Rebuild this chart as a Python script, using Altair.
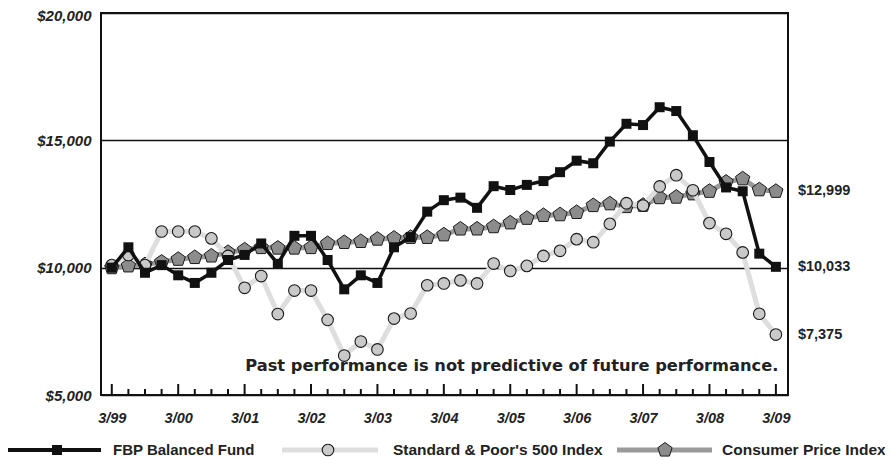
import altair as alt
import pandas as pd

# ---------------- data ----------------
quarters = list(range(41))  # 3/99 ... 3/09, quarterly
tick_labels = ["3/99", "3/00", "3/01", "3/02", "3/03", "3/04",
               "3/05", "3/06", "3/07", "3/08", "3/09"]
series_names = ["FBP Balanced Fund", "Standard & Poor's 500 Index", "Consumer Price Index"]

fbp = [10000, 10800, 9800, 10100, 9700, 9400, 9800, 10300, 10500, 10950,
       10150, 11250, 11250, 10300, 9150, 9700, 9400, 10800, 11200, 12200,
       12650, 12750, 12350, 13200, 13050, 13250, 13400, 13750, 14200, 14100,
       14950, 15650, 15600, 16300, 16150, 15200, 14150, 13150, 13000, 10550,
       10033]
sp500 = [10100, 10500, 10100, 11420, 11420, 11420, 11150, 10460, 9210, 9670,
         8180, 9100, 9100, 7950, 6550, 7100, 6790, 8000, 8200, 9310,
         9380, 9500, 9380, 10160, 9870, 10070, 10460, 10660, 11120, 11000,
         11720, 12530, 12440, 13190, 13630, 13040, 11750, 11330, 10600, 8190,
         7375]
cpi = [10000, 10070, 10120, 10220, 10330, 10400, 10460, 10600, 10700, 10790,
       10770, 10770, 10790, 10950, 10990, 11030, 11120, 11160, 11190, 11190,
       11290, 11520, 11520, 11610, 11760, 11940, 12050, 12080, 12170, 12440,
       12510, 12400, 12450, 12750, 12770, 12900, 13000, 13360, 13490, 13060,
       12999]
end_labels = ["$12,999", "$10,033", "$7,375"]
y_ticks = [5000, 10000, 15000, 20000]
note = "Past performance is not predictive of future performance."

# ---------------- layout ----------------
W, H = 687, 382
BOLD = "Liberation Sans"
TXT = "#222222"

df = pd.DataFrame({"q": quarters, "fbp": fbp, "sp": sp500, "cpi": cpi})
ends = pd.DataFrame({"q": [quarters[-1]] * 3,
                     "v": [cpi[-1], fbp[-1], sp500[-1]],
                     "label": end_labels})
ticks = pd.DataFrame({"q": quarters, "major": [q % 4 == 0 for q in quarters]})

xs = alt.Scale(domain=[-0.65, 40.73], nice=False, zero=False)
ys = alt.Scale(domain=[5000, 20000], nice=False, zero=False)

label_expr = "[" + ",".join("'%s'" % t for t in tick_labels) + "][round(datum.value/4)]"

x_axis = alt.Axis(values=list(range(0, 41, 4)), labelExpr=label_expr, ticks=False,
                  domain=False, grid=False, title=None, labelFont=BOLD,
                  labelFontWeight="bold", labelFontStyle="italic", labelFontSize=14.5,
                  labelColor=TXT, labelPadding=16)
y_axis = alt.Axis(values=y_ticks, format="$,.0f", ticks=False, domain=False,
                  grid=True, gridColor="#111111", gridWidth=1.5, gridOpacity=1,
                  title=None, labelFont=BOLD, labelFontWeight="bold",
                  labelFontStyle="italic", labelFontSize=15, labelColor=TXT,
                  labelPadding=10,
                  labelOffset=alt.ExprRef("datum.value == 20000 ? 2.5 : 0"))


def X(field="q:Q"):
    return alt.X(field, scale=xs, axis=x_axis)


def Y(field):
    return alt.Y(field, scale=ys, axis=y_axis)


PENT = "M0,-1L0.951,-0.309L0.588,0.809L-0.588,0.809L-0.951,-0.309Z"

base = alt.Chart(df)

cpi_line = base.mark_line(color="#9a9a9a", strokeWidth=5).encode(x=X(), y=Y("cpi:Q"))
cpi_pts = base.mark_point(shape=PENT, size=225, filled=True, fill="#8c8c8c",
                          stroke="#1a1a1a", strokeWidth=1, opacity=1).encode(
    x=X(), y=Y("cpi:Q"))

sp_line = base.mark_line(color="#dedede", strokeWidth=5).encode(x=X(), y=Y("sp:Q"))
sp_pts = base.mark_point(shape="circle", size=135, filled=True, fill="#c9c9c9",
                         stroke="#1a1a1a", strokeWidth=1.1, opacity=1).encode(
    x=X(), y=Y("sp:Q"))

fbp_line = base.mark_line(color="#111111", strokeWidth=3.5).encode(x=X(), y=Y("fbp:Q"))
fbp_pts = base.mark_square(size=100, color="#111111", opacity=1).encode(
    x=X(), y=Y("fbp:Q"))

tick_major = alt.Chart(ticks).transform_filter("datum.major").mark_rule(
    color="#111111", strokeWidth=2).encode(
    x=X(), y=alt.value(H), y2=alt.value(H - 11))
tick_minor = alt.Chart(ticks).transform_filter("!datum.major").mark_rule(
    color="#111111", strokeWidth=2).encode(
    x=X(), y=alt.value(H), y2=alt.value(H - 6))

end_text = alt.Chart(ends).mark_text(align="left", baseline="middle", dx=22,
                                     font=BOLD, fontWeight="bold", fontSize=14.5,
                                     color=TXT).encode(
    x=X(), y=Y("v:Q"), text="label:N")

one = pd.DataFrame({"k": [0]})
note_text = alt.Chart(one).mark_text(text=note, align="right", baseline="middle",
                                     font="DejaVu Sans", fontWeight="bold",
                                     fontSize=16.25, color=TXT, dx=2.5).encode(
    x=alt.datum(40, scale=xs, axis=x_axis), y=alt.value(353))

# ---------------- legend (drawn manually) ----------------
LY = 437


def leg_line(x1, x2, color, width):
    return alt.Chart(one).mark_rule(color=color, strokeWidth=width).encode(
        x=alt.value(x1), x2=alt.value(x2), y=alt.value(LY))


def leg_text(x, label, size):
    return alt.Chart(one).mark_text(text=label, align="left", baseline="middle",
                                    font=BOLD, fontWeight="bold", fontSize=size,
                                    color=TXT).encode(x=alt.value(x), y=alt.value(LY))


legend = [
    leg_line(-94, 0, "#111111", 4),
    alt.Chart(one).mark_square(size=100, color="#111111", opacity=1).encode(
        x=alt.value(-44), y=alt.value(LY)),
    leg_text(12, series_names[0], 15),
    leg_line(181, 277, "#dedede", 5),
    alt.Chart(one).mark_point(shape="circle", size=135, filled=True, fill="#c9c9c9",
                              stroke="#1a1a1a", strokeWidth=1.1, opacity=1).encode(
        x=alt.value(227), y=alt.value(LY)),
    leg_text(292, series_names[1], 15.5),
    leg_line(516, 611, "#9a9a9a", 5),
    alt.Chart(one).mark_point(shape=PENT, size=225, filled=True, fill="#8c8c8c",
                              stroke="#1a1a1a", strokeWidth=1, opacity=1).encode(
        x=alt.value(564), y=alt.value(LY)),
    leg_text(621, series_names[2], 15.5),
]

chart = alt.layer(
    cpi_line, tick_major, tick_minor, cpi_pts, sp_line, sp_pts, fbp_line, fbp_pts,
    end_text, note_text, *legend
).properties(
    width=W, height=H,
    autosize=alt.AutoSizeParams(type="none"),
    padding={"left": 93, "top": 5, "right": 97, "bottom": 63},
).configure_view(stroke="#111111", strokeWidth=2)

chart.save("out.html", embed_options={"renderer": "svg", "actions": False})
